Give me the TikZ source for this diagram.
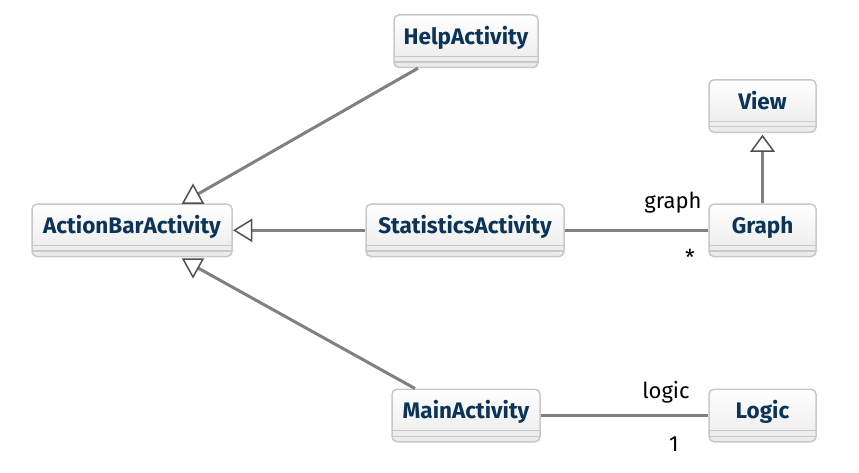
\documentclass[tikz,border=0pt]{standalone}
\usepackage{fontspec}
\setmainfont{Fira Sans}
\usetikzlibrary{calc}

\definecolor{classtext}{RGB}{12,52,88}
\definecolor{boxborder}{RGB}{200,200,200}
\definecolor{boxbottom}{RGB}{234,234,234}
\definecolor{linegray}{RGB}{128,128,128}
\definecolor{tipgray}{RGB}{80,80,80}

\tikzset{
    umlclass/.style={draw=boxborder, line width=1.5pt, rounded corners=5pt,
        top color=white, bottom color=boxbottom,
        minimum height=52.5, inner xsep=4, inner ysep=0,
        text height=15, text depth=9, text=classtext,
        font=\fontsize{22.5}{26}\selectfont\bfseries,
        path picture={
            \draw[boxborder, line width=1.2pt]
                ($(path picture bounding box.south west)+(0,-11)$) -- ($(path picture bounding box.south east)+(0,-11)$)
                ($(path picture bounding box.south west)+(0,-5.5)$) -- ($(path picture bounding box.south east)+(0,-5.5)$);
        }},
    connector/.style={draw=linegray, line width=3pt},
    generalization/.style={draw=tipgray, line width=1.5pt, fill=white, line join=miter},
    rolelabel/.style={anchor=base, inner sep=0, font=\fontsize{22}{26}\selectfont}
}

\begin{document}
\begin{tikzpicture}[x=1pt,y=-1pt]
        \useasboundingbox (0,0) rectangle (859,472);

        % classes
        \node[umlclass, minimum width=144] (help) at (466,41.2) {HelpActivity};
        \node[umlclass, minimum width=107] (view) at (762.5,106) {View};
        \node[umlclass, minimum width=200] (actionbar) at (132,230.3) {ActionBarActivity};
        \node[umlclass, minimum width=198] (stats) at (465,230.3) {StatisticsActivity};
        \node[umlclass, minimum width=107] (graph) at (762.5,230.3) {Graph};
        \node[umlclass, minimum width=148] (main) at (466,415.5) {MainActivity};
        \node[umlclass, minimum width=107] (logic) at (762.5,415.5) {Logic};

        % generalization tips
        \coordinate (tipHelp) at (193,185);
        \coordinate (tipStats) at (234.5,230.3);
        \coordinate (tipMain) at (193,277);
        \coordinate (tipView) at (762.5,136);
        \coordinate (endHelp) at (198,194);
        \coordinate (endStats) at (251.5,230.3);
        \coordinate (endMain) at (198,268);
        \coordinate (endView) at (762.5,151);

        % inheritance
        \draw[connector] ([xshift=-48]help.south) -- (endHelp);
        \draw[connector] (stats.west) -- (endStats);
        \draw[connector] ([xshift=-51]main.north) -- (endMain);
        \draw[connector] (graph.north) -- (endView);

        \draw[generalization] (tipHelp) -- ++(10,18) -- ++(-20,0) -- cycle;
        \draw[generalization] (tipStats) -- ++(17,-10.5) -- ++(0,21) -- cycle;
        \draw[generalization] (tipMain) -- ++(10,-18) -- ++(-20,0) -- cycle;
        \draw[generalization] (tipView) -- ++(11,15) -- ++(-22,0) -- cycle;

        % associations
        \draw[connector] (stats.east) -- (graph.west);
        \draw[connector] (main.east) -- (logic.west);
        \node[rolelabel] (graphRole) at (673,208) {graph};
        \node[rolelabel] (graphMult) at (690,265) {*};
        \node[rolelabel] (logicRole) at (666,398.3) {logic};
        \node[rolelabel] (logicMult) at (674,451.7) {1};
    \end{tikzpicture}
\end{document}
